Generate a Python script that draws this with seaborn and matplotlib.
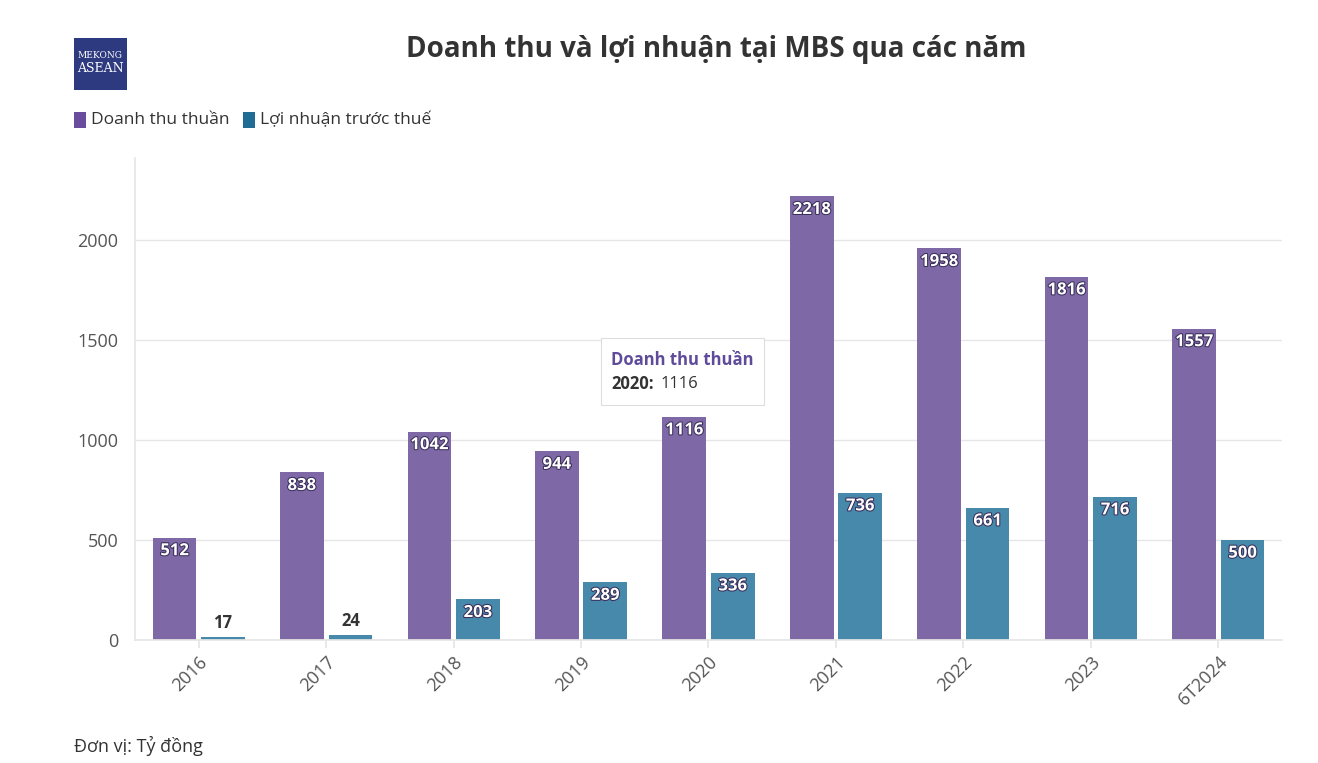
import matplotlib
matplotlib.use("Agg")
import matplotlib.pyplot as plt
import matplotlib.patheffects as pe
import seaborn as sns
import pandas as pd

years = ["2016", "2017", "2018", "2019", "2020", "2021", "2022", "2023", "6T2024"]
revenue = [512, 838, 1042, 944, 1116, 2218, 1958, 1816, 1557]
profit = [17, 24, 203, 289, 336, 736, 661, 716, 500]
s1, s2 = "Doanh thu thuần", "Lợi nhuận trước thuế"

sns.set_theme(style="white")
plt.rcParams['font.family'] = ['Open Sans', 'DejaVu Sans']

df = pd.DataFrame({"year": years * 2, "value": revenue + profit,
                   "series": [s1] * len(years) + [s2] * len(years)})

fig = plt.figure(figsize=(13.18, 7.63), dpi=100)
ax = fig.add_axes([0.1024, 0.1612, 0.8703, 0.6318])
pal = {s1: "#7e69a6", s2: "#4689ab"}
sns.barplot(data=df, x="year", y="value", hue="series", palette=pal, width=0.76,
            gap=0.1, saturation=1, ax=ax, legend=False, linewidth=0)
ax.set_ylim(0, 2410)
ax.set_xlim(-0.5, len(years) - 0.5)
ax.set_yticks([0, 500, 1000, 1500, 2000])
ax.grid(axis="y", color="#e6e6e6", lw=1)
ax.set_axisbelow(True)
for s in ["top", "right"]:
    ax.spines[s].set_visible(False)
ax.spines["left"].set_color("#e6e6e6")
ax.spines["bottom"].set_color("#e6e6e6")
ax.set_xlabel(""); ax.set_ylabel("")
ax.tick_params(axis="y", labelsize=13, colors="#555555", length=0, pad=12)
ax.tick_params(axis="x", labelsize=13, colors="#555555", length=6, color="#e6e6e6", bottom=True)
plt.setp(ax.get_xticklabels(), rotation=45, ha="right", rotation_mode="anchor")

for cont in ax.containers:
    for bar in cont:
        h = bar.get_height()
        cx = bar.get_x() + bar.get_width() / 2
        if h > 150:
            ax.text(cx, h - 18, f"{int(h)}", ha="center", va="top", fontsize=12,
                    fontweight="bold", color="white",
                    path_effects=[pe.withStroke(linewidth=1.5, foreground="#3a2f5a")])
        else:
            ax.text(cx, h + 25, f"{int(h)}", ha="center", va="bottom", fontsize=12,
                    fontweight="bold", color="#333333")

# tooltip
fig.patches.append(plt.Rectangle((601/1318, 1-405/763), 163/1318, 67/763,
                                 transform=fig.transFigure, facecolor="white",
                                 edgecolor="#dddddd", lw=0.8, zorder=5))
fig.text(611/1318, 1-360/763, s1, fontsize=12, fontweight="bold", color="#5f4b9a", va="center", zorder=6)
fig.text(611/1318, 1-384/763, "2020:", fontsize=12, fontweight="bold", color="#333333", va="center", zorder=6)
fig.text(661/1318, 1-384/763, "1116", fontsize=12, color="#333333", va="center", zorder=6)

fig.text(716/1318, 1-50/763, "Doanh thu và lợi nhuận tại MBS qua các năm", ha="center", va="center",
         fontsize=20, fontweight="bold", color="#333333")
# logo
fig.patches.append(plt.Rectangle((74/1318, 1-90/763), 53/1318, 52/763, transform=fig.transFigure,
                                 facecolor="#2e3a80", edgecolor="none"))
fig.text(100.5/1318, 1-56/763, "MEKONG", ha="center", va="center", fontsize=6.5, color="white", family="DejaVu Serif")
fig.text(100.5/1318, 1-68/763, "ASEAN", ha="center", va="center", fontsize=9, color="white", family="DejaVu Serif")
# legend
for x0, lab, col in [(74, s1, "#6a4c9c"), (243, s2, "#1f6c95")]:
    fig.patches.append(plt.Rectangle((x0/1318, 1-128/763), 12/1318, 16/763, transform=fig.transFigure,
                                     facecolor=col, edgecolor="none"))
    fig.text((x0 + 17)/1318, 1-120/763, lab, va="center", fontsize=12.5, color="#333333")
fig.text(74/1318, 1-746/763, "Đơn vị: Tỷ đồng", va="center", fontsize=13, color="#333333")
fig.savefig("out.png", dpi=100)
